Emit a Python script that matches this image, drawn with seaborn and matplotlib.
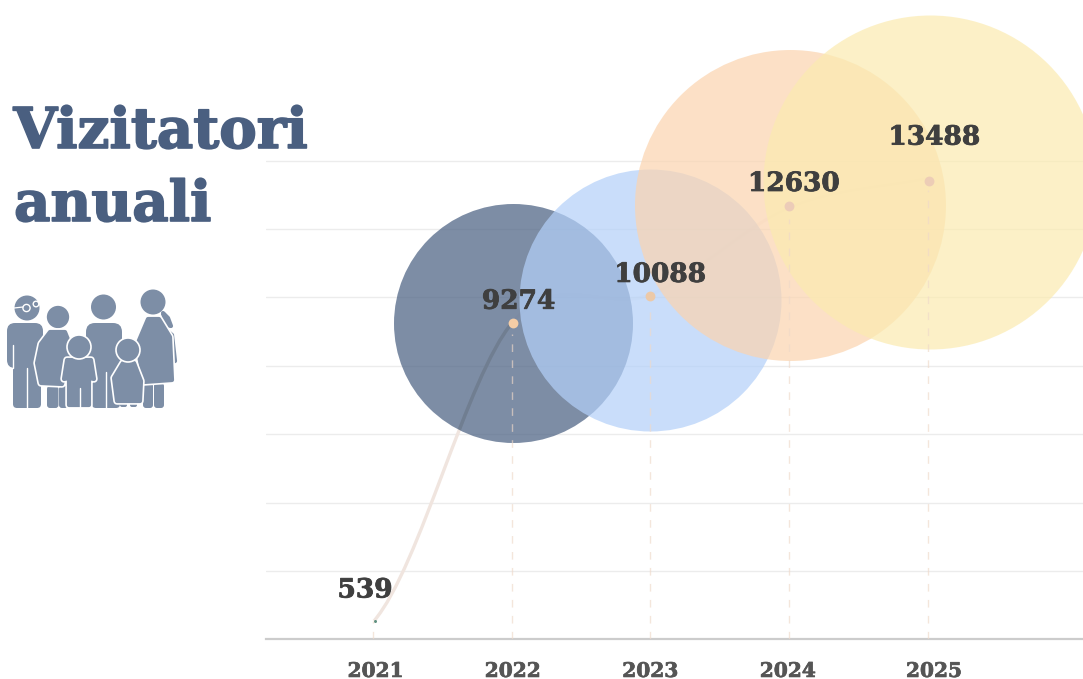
#%% imports
import numpy as np
import pandas as pd
import matplotlib.pyplot as plt
import matplotlib.patheffects as pe
import seaborn as sns
from matplotlib.patches import Circle, FancyBboxPatch, Polygon, PathPatch
from matplotlib.path import Path
from matplotlib.transforms import IdentityTransform, ScaledTranslation

#%% data
years = [2021, 2022, 2023, 2024, 2025]
visitors = [539, 9274, 10088, 12630, 13488]
grid_values = [2000, 4000, 6000, 8000, 10000, 12000, 14000]
title_lines = ['Vizitatori', 'anuali']

#%% styles
bubble_colors = {2021: '#5f9080', 2022: '#526787', 2023: '#b3d0f9', 2024: '#fbd4af', 2025: '#fbebb0'}
bubble_alpha = {2021: 1, 2022: .75, 2023: .71, 2024: .7, 2025: .7}
bubble_radius = {2021: 1.5, 2022: 119.5, 2023: 131, 2024: 155.5, 2025: 167}  # px
# small pixel nudges (right, down) so the marks sit where the reference has them
bubble_nudge = {2021: (1, 0), 2022: (0, .3), 2023: (-1, 6), 2024: (0, -2), 2025: (1.5, 3.4)}
dot_nudge = {2022: (.4, .8), 2023: (-1.2, 2), 2024: (-.8, -1.4), 2025: (.6, 2.9)}
dot_colors = {2022: '#f5cda6', 2023: '#ecc9a8', 2024: '#ecccb8', 2025: '#edcdb6'}
tick_nudge = [1.5, 0, -1, -2, 5.5]
TITLE = '#4a5f80'
INK = '#3f3f3f'
SERIF = 'DejaVu Serif'

sns.set_theme(style='white')
plt.rcParams['font.family'] = [SERIF]

fig = plt.figure(figsize=(10.83, 6.79), dpi=100)
W, H = 1083, 679
top, bottom = 23.8, 639.4
ax = fig.add_axes([266/W, 1 - bottom/H, (W-266)/W, (bottom-top)/H])
ax.patch.set_alpha(0)


def nudged(dx, dy):
    return ax.transData + ScaledTranslation(dx/100, -dy/100, fig.dpi_scale_trans)


#%% axes
ax.set_xlim(2021 - 108/138.6, 2025 + 154.6/138.6)
ax.set_ylim(0, 18000)
ax.set_yticks(grid_values)
ax.set_yticklabels([])
ax.grid(axis='y', color='#ececec', lw=1)
ax.set_axisbelow(True)
sns.despine(ax=ax, left=True, top=True, right=True)
ax.spines['bottom'].set_color('#cccccc')
ax.spines['bottom'].set_linewidth(1.6)
ax.set_xticks(years)
ax.set_xticklabels(years, fontsize=14.5, fontweight='bold', color='#555555')
ax.tick_params(axis='x', length=0, pad=15.5)
ax.tick_params(axis='y', length=0)
# after tick_params, which resets the label transform
for t, dx in zip(ax.get_xticklabels(), tick_nudge):
    t.set_path_effects([pe.withStroke(linewidth=.5, foreground='#555555')])
    t.set_transform(t.get_transform() + ScaledTranslation(dx/100, 0, fig.dpi_scale_trans))

#%% connecting curve, smooth through the data
x = np.array(years, float)
y = np.array(visitors, float)
tx = np.gradient(x)
ty = np.gradient(y, x)
ty[0] = ty[1]
segs = []
for i in range(len(x) - 1):
    segs.append([(x[i], y[i]),
                 (x[i] + tx[i]/3, y[i] + ty[i]*tx[i]/3),
                 (x[i+1] - tx[i+1]/3, y[i+1] - ty[i+1]*tx[i+1]/3),
                 (x[i+1], y[i+1])])
codes = [Path.MOVETO, Path.CURVE4, Path.CURVE4, Path.CURVE4]
ax.add_patch(PathPatch(Path(segs[0], codes), fc='none', ec='#f0e5df', lw=2.4, zorder=1.5, clip_on=False))
for s in segs[1:]:
    ax.add_patch(PathPatch(Path(s, codes), fc='none', ec='#f0e5df', lw=2.4, alpha=.35, zorder=1.5, clip_on=False))

#%% bubbles
df = pd.DataFrame({'year': years, 'visitors': visitors})
for yr in years:
    sub = df[df['year'] == yr]
    d_pt = 2*bubble_radius[yr]*72/100
    before = len(ax.collections)
    sns.scatterplot(data=sub, x='year', y='visitors', ax=ax, color=bubble_colors[yr], s=d_pt**2,
                    alpha=bubble_alpha[yr], linewidth=0, clip_on=False, zorder=2 + yr/10000, legend=False)
    ax.collections[before].set_offset_transform(nudged(*bubble_nudge[yr]))
ax.set_xlabel('')
ax.set_ylabel('')

# inside the dark bubble the curve reads darker than the bubble
px_2022 = ax.transData.transform((2022, 9274)) + np.array([0, -.3])
inner = PathPatch(Path(segs[0], codes), fc='none', ec='#707e91', lw=2.4, zorder=2.5)
ax.add_patch(inner)
inner.set_clip_path(Circle(tuple(px_2022), bubble_radius[2022], transform=IdentityTransform()))

#%% drop lines, they stop a little under the dots
for i, yr in enumerate(years):
    end = visitors[i] - 350 if yr != 2021 else visitors[i]
    ax.plot([yr - .006, yr - .006], [0, end], color='#efd9c9', alpha=.65, lw=1, ls=(0, (5.5, 6)), zorder=3.5)

#%% center dots and labels
label_dx = {2021: -9, 2022: 6, 2023: 9, 2024: 4, 2025: 6}
label_dy = {2021: 31, 2022: 21, 2023: 20, 2024: 24, 2025: 41}
for i, yr in enumerate(years):
    if yr != 2021:
        dot = ax.scatter([yr], [visitors[i]], s=50, color=dot_colors[yr], linewidth=0, zorder=4, clip_on=False)
        dot.set_offset_transform(nudged(*dot_nudge[yr]))
    a = ax.annotate(str(visitors[i]), (yr, visitors[i]), xytext=(label_dx[yr]*.72, label_dy[yr]*.72),
                    textcoords='offset points', ha='center', va='center', fontsize=19,
                    fontweight='bold', color=INK, zorder=5, annotation_clip=False)
    a.set_path_effects([pe.withStroke(linewidth=.6, foreground=INK)])

#%% title
for txt, tx0, base in zip(title_lines, [13.5, 14], [148, 221]):
    t = fig.text(tx0/W, 1 - base/H, txt, fontsize=40.5, fontweight='bold', color=TITLE, va='baseline', ha='left')
    t.set_path_effects([pe.withStroke(linewidth=1.2, foreground=TITLE)])

#%% family icon, pixel coordinates
icon = fig.add_axes([0, 0, 1, 1], zorder=-1)
icon.set_xlim(0, W)
icon.set_ylim(H, 0)
icon.axis('off')
C = '#7d8ea6'


def body(x0, y0, w, h, r=6, z=1):
    icon.add_patch(FancyBboxPatch((x0 + r, y0 + r), w - 2*r, h - 2*r, boxstyle=f'round,pad={r}',
                                  fc=C, ec='none', zorder=z))


def head(cx, cy, r, z=1, outline=False):
    icon.add_patch(Circle((cx, cy), r, fc=C, ec='white' if outline else 'none', lw=1.2, zorder=z))


def dress(pts, z=1, outline=True):
    # thick edge in the same colour rounds the corners, white ring goes behind it
    if outline:
        icon.add_patch(Polygon(pts, closed=True, fc='white', ec='white', lw=5.4, joinstyle='round', zorder=z))
    icon.add_patch(Polygon(pts, closed=True, fc=C, ec=C, lw=3, joinstyle='round', zorder=z + .01))


def split(x0, y0, y1, z=1.1):
    icon.plot([x0, x0], [y0, y1], color='white', lw=1, zorder=z)


# grandfather with glasses
head(27, 308, 12.5)
icon.add_patch(Circle((26.5, 308), 3.6, fc='none', ec='white', lw=1, zorder=1.2))
icon.add_patch(Circle((36, 304), 2.8, fc=C, ec='white', lw=1, zorder=1.2))
icon.plot([14, 23], [308, 307], color='white', lw=.9, zorder=1.2)
body(7, 323, 36, 45, r=8)
body(13, 335, 28, 73, r=4)
split(27, 368, 408)
split(13, 345, 368)
split(41, 345, 368)
# grandmother
head(58, 317, 12, z=2, outline=True)
dress([(50, 332), (65, 332), (71, 347), (62, 384), (41, 383), (37, 363), (41, 344)], z=2)
body(47, 386, 11.5, 22, r=3, z=1.5)
body(59, 386, 9, 22, r=3, z=1.5)
# father
head(103.5, 307, 12.5)
body(86, 323, 36, 45, r=9)
body(92, 335, 28, 73, r=4)
split(105.5, 372, 408)
# mother
head(153, 302, 12.5, z=2)
dress([(148, 319), (159, 319), (170, 337), (172, 380), (144, 382), (137, 345)], z=1.5)
dress([(160, 325), (172, 335), (175, 361), (172, 362), (160, 350)], z=1.45, outline=False)
dress([(163, 313), (168, 318), (171, 326), (166, 325)], z=1.4, outline=False)
body(143, 383, 10, 25, r=3)
body(154, 383, 10, 25, r=3)
# boy
head(79, 347, 12, z=3, outline=True)
dress([(67, 360), (91, 360), (94, 379), (89, 378), (89, 405), (69, 405), (69, 378), (64, 379)], z=2.8)
split(79.5, 388, 408, z=3.1)
# girl
head(128, 350, 12, z=3, outline=True)
dress([(123, 363), (134, 363), (141, 381), (140, 401), (117, 401), (114, 378)], z=2.8)
body(120, 402, 7, 5, r=2, z=2.7)
body(130, 402, 7, 5, r=2, z=2.7)

fig.savefig('out.png', dpi=100)
